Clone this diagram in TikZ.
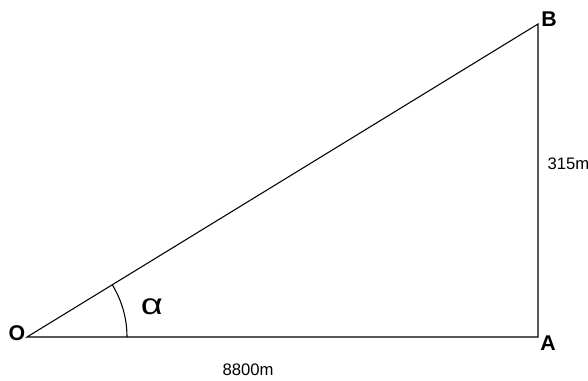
\documentclass[tikz,border=0pt]{standalone}
\usepackage{fontspec}
\setmainfont{Liberation Sans}
\usetikzlibrary{angles}

\begin{document}
\begin{tikzpicture}[x=0.75pt, y=-0.75pt, line width=0.8pt]
    \tikzset{
      corner/.style={font=\fontsize{16}{18}\selectfont\bfseries, inner sep=0pt},
      length/.style={font=\fontsize{12.5}{14}\selectfont, inner sep=0pt}}
    \useasboundingbox (0,0) rectangle (588,380);
    \coordinate (O) at (27,337);
    \coordinate (A) at (538,337);
    \coordinate (B) at (538,24);
    \draw (O) -- (A) -- (B) -- cycle;
    \pic[draw, angle radius=75pt] {angle = A--O--B};
    \node[corner] (lo) at (17,333) {O};
    \node[corner] (la) at (548,343) {A};
    \node[corner] (lb) at (549,19) {B};
    \node[length, anchor=west] (h) at (547,164) {315m};
    \node[length] (w) at (248,370) {8800m};
    \node[inner sep=0pt, xscale=1.3, font=\fontsize{22}{22}\selectfont] (al) at (152,307) {α};
  \end{tikzpicture}
\end{document}
